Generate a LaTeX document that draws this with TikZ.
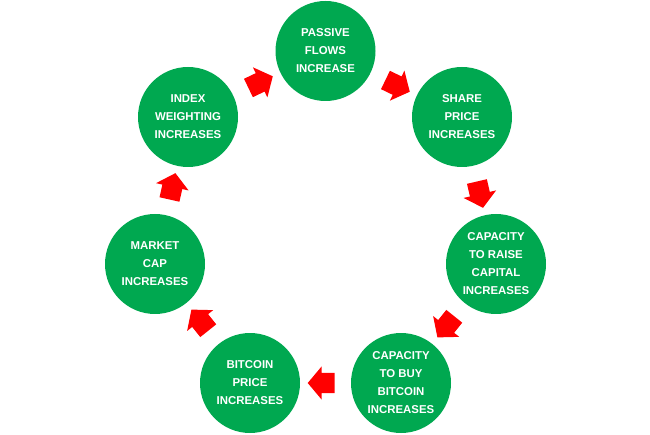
\documentclass[tikz,border=0pt]{standalone}
\usepackage{fontspec}
\setsansfont{Liberation Sans}
\usetikzlibrary{shapes.arrows,calc}
\definecolor{loopgreen}{RGB}{0,168,80}
\definecolor{looped}{RGB}{255,0,0}
\tikzset{
  stage/.style = {circle, fill=loopgreen, minimum size=100pt, inner sep=0pt,
                  align=center, text=white,
                  font=\sffamily\bfseries\fontsize{11.4}{18}\selectfont},
  blockarr/.style = {single arrow, fill=looped, draw=none,
                  inner xsep=0pt, inner ysep=10pt,
                  minimum height=27pt, minimum width=33pt,
                  single arrow head extend=6.5pt, single arrow tip angle=100},
}
\begin{document}
\begin{tikzpicture}[x=1pt, y=-1pt]
  \useasboundingbox (0,0) rectangle (650,435);
  \node[stage] (pas) at (325.5,51)  {PASSIVE\\FLOWS\\INCREASE};
  \node[stage] (shr) at (462,117)   {SHARE\\PRICE\\INCREASES};
  \node[stage] (cap) at (496,264)   {CAPACITY\\TO RAISE\\CAPITAL\\INCREASES};
  \node[stage] (buy) at (401,383)   {CAPACITY\\TO BUY\\BITCOIN\\INCREASES};
  \node[stage] (btc) at (250,383)   {BITCOIN\\PRICE\\INCREASES};
  \node[stage] (mkt) at (155,264)   {MARKET\\CAP\\INCREASES};
  \node[stage] (idx) at (188,117)   {INDEX\\WEIGHTING\\INCREASES};
  % red block arrows halfway between neighbours
  \foreach \a/\b in {idx/pas, pas/shr, shr/cap, cap/buy, buy/btc, btc/mkt, mkt/idx}
    \path let \p1 = ($(\b)-(\a)$), \n1 = {atan2(\y1,\x1)} in
      node[blockarr, rotate=\n1] (arr-\a) at ($(\a)!0.5!(\b)$) {};
\end{tikzpicture}
\end{document}
